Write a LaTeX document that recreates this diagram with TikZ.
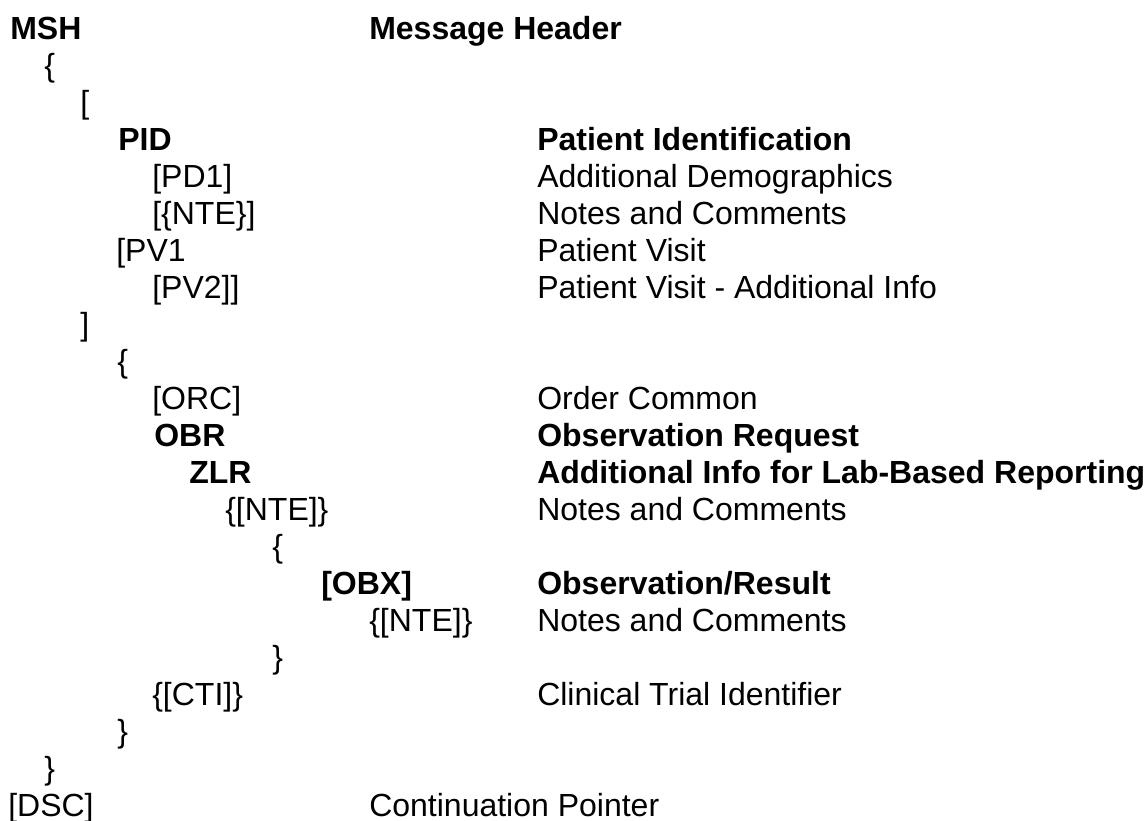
\documentclass[tikz,border=0pt]{standalone}
\usepackage{fontspec}
\setmainfont{Liberation Sans}
\usepackage{tikz}
\usetikzlibrary{positioning}

\begin{document}
\begin{tikzpicture}[
    x=0.75pt, y=-0.75pt,
    seg/.style={anchor=base west, inner sep=0pt, font=\fontsize{24}{28}\selectfont},
    segb/.style={seg, font=\fontsize{24}{28}\selectfont\bfseries},
    desc/.style={seg},
    descb/.style={segb},
  ]
    \useasboundingbox (0,0) rectangle (1146,821);
    % left column: segment grammar
    \node[segb] (msh)  at (10,39)  {MSH};
    \node[seg]  (b1)   at (44,76)  {\{};
    \node[seg]  (k1)   at (80,113) {[};
    \node[segb] (pid)  at (118,150) {PID};
    \node[seg]  (pd1)  at (152,187) {[PD1]};
    \node[seg]  (nte1) at (152,224) {[\{NTE\}]};
    \node[seg]  (pv1)  at (116,261) {[PV1};
    \node[seg]  (pv2)  at (152,298) {[PV2]]};
    \node[seg]  (k2)   at (80,335) {]};
    \node[seg]  (b2)   at (117,372) {\{};
    \node[seg]  (orc)  at (152,409) {[ORC]};
    \node[segb] (obr)  at (154,446) {OBR};
    \node[segb] (zlr)  at (189,483) {ZLR};
    \node[seg]  (nte2) at (225,520) {\{[NTE]\}};
    \node[seg]  (b3)   at (272,557) {\{};
    \node[segb] (obx)  at (321,594) {[OBX]};
    \node[seg]  (nte3) at (369,631) {\{[NTE]\}};
    \node[seg]  (b4)   at (272,668) {\}};
    \node[seg]  (cti)  at (152,705) {\{[CTI]\}};
    \node[seg]  (b5)   at (117,742) {\}};
    \node[seg]  (b6)   at (44,779) {\}};
    \node[seg]  (dsc)  at (8,816)  {[DSC]};
    % right column: descriptions
    \node[descb] (dmsh)  at (369,39)  {Message Header};
    \node[descb] (dpid)  at (537,150) {Patient Identification};
    \node[desc]  (dpd1)  at (537,187) {Additional Demographics};
    \node[desc]  (dnte1) at (537,224) {Notes and Comments};
    \node[desc]  (dpv1)  at (537,261) {Patient Visit};
    \node[desc]  (dpv2)  at (537,298) {Patient Visit - Additional Info};
    \node[desc]  (dorc)  at (537,409) {Order Common};
    \node[descb] (dobr)  at (537,446) {Observation Request};
    \node[descb] (dzlr)  at (537,483) {Additional Info for Lab-Based Reporting};
    \node[desc]  (dnte2) at (537,520) {Notes and Comments};
    \node[descb] (dobx)  at (537,594) {Observation/Result};
    \node[desc]  (dnte3) at (537,631) {Notes and Comments};
    \node[desc]  (dcti)  at (537,705) {Clinical Trial Identifier};
    \node[desc]  (ddsc)  at (369,816) {Continuation Pointer};
\end{tikzpicture}
\end{document}
